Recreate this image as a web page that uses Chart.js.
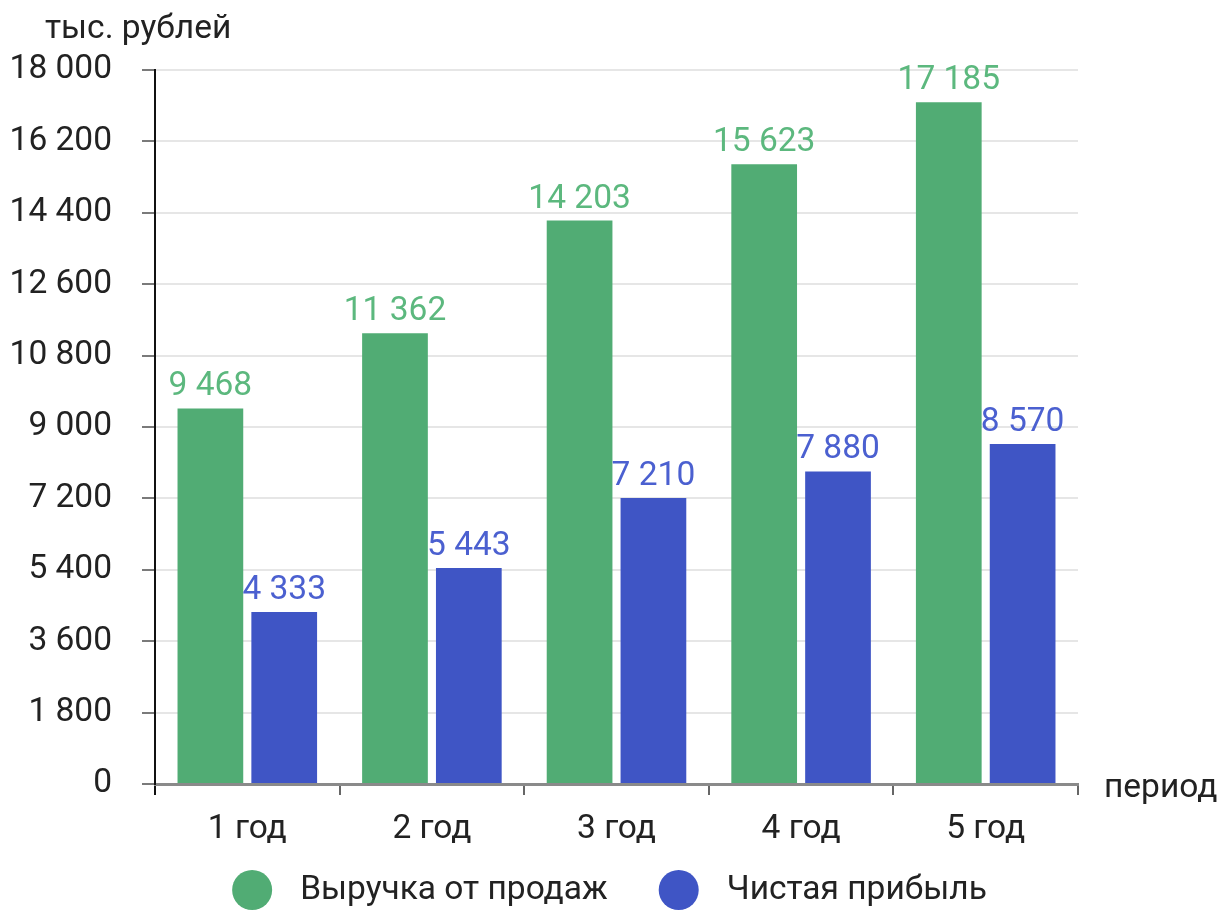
<!DOCTYPE html>
<html>
<head>
<meta charset="utf-8">
<script src="https://cdn.jsdelivr.net/npm/chart.js@4.4.1/dist/chart.umd.min.js"></script>
<style>
  html, body { margin: 0; padding: 0; background: #ffffff; }
  #wrap { width: 1219px; height: 915px; position: relative; }
</style>
</head>
<body>
<div id="wrap"><canvas id="chart" width="1219" height="915"></canvas></div>
<script>
// Revenue and net profit by year, thousand roubles
const categories = ['1 год', '2 год', '3 год', '4 год', '5 год'];
const revenue = [9468, 11362, 14203, 15623, 17185];
const netProfit = [4333, 5443, 7210, 7880, 8570];
const seriesNames = ['Выручка от продаж', 'Чистая прибыль'];
const yTickValues = [0, 1800, 3600, 5400, 7200, 9000, 10800, 12600, 14400, 16200, 18000];
const yAxisTitle = 'тыс. рублей';
const xAxisTitle = 'период';

const FONT = 'Roboto, "Liberation Sans", Arial, sans-serif';
const FS = 33.5;
const barColors = ['#51ac74', '#3f55c5'];
const labelColors = ['#5cb87e', '#4b60d0'];

const fmt = v => String(v).replace(/\B(?=(\d{3})+(?!\d))/g, ' ');

const decor = {
  id: 'decor',
  afterDatasetsDraw(chart) {
    const ctx = chart.ctx;
    ctx.save();
    ctx.font = FS + 'px ' + FONT;
    ctx.textAlign = 'center';
    ctx.textBaseline = 'alphabetic';
    chart.data.datasets.forEach((ds, i) => {
      const meta = chart.getDatasetMeta(i);
      ctx.fillStyle = labelColors[i];
      meta.data.forEach((el, j) => {
        ctx.fillText(fmt(ds.data[j]), el.x, el.y - 13);
      });
    });
    ctx.restore();
  },
  afterDraw(chart) {
    const ctx = chart.ctx;
    const area = chart.chartArea;
    ctx.save();
    ctx.font = FS + 'px ' + FONT;
    ctx.fillStyle = '#222';
    ctx.textBaseline = 'alphabetic';
    ctx.textAlign = 'left';
    ctx.fillText(yAxisTitle, 45, 38);
    ctx.fillText(xAxisTitle, area.right + 26, area.bottom + 13);

    // legend row
    const r = 20, gapText = 28, gapItem = 51;
    const widths = seriesNames.map(n => ctx.measureText(n).width);
    let total = 0;
    widths.forEach((w, i) => { total += 2 * r + gapText + w + (i < widths.length - 1 ? gapItem : 0); });
    let x = chart.width / 2 - total / 2;
    const cy = 890;
    ctx.textBaseline = 'middle';
    seriesNames.forEach((n, i) => {
      ctx.fillStyle = barColors[i];
      ctx.beginPath();
      ctx.arc(x + r, cy, r, 0, Math.PI * 2);
      ctx.fill();
      x += 2 * r + gapText;
      ctx.fillStyle = '#222';
      ctx.fillText(n, x, cy + 1);
      x += widths[i] + gapItem;
    });
    ctx.restore();
  }
};

new Chart(document.getElementById('chart'), {
  type: 'bar',
  data: {
    labels: categories,
    datasets: [
      { label: seriesNames[0], data: revenue, backgroundColor: barColors[0] },
      { label: seriesNames[1], data: netProfit, backgroundColor: barColors[1] }
    ]
  },
  plugins: [decor],
  options: {
    responsive: false,
    animation: false,
    devicePixelRatio: 1,
    categoryPercentage: 0.8,
    barPercentage: 0.89,
    layout: { padding: { left: 0, top: 70, right: 141, bottom: 71 } },
    plugins: {
      legend: { display: false },
      tooltip: { enabled: false }
    },
    scales: {
      x: {
        grid: {
          offset: true,
          drawOnChartArea: false,
          tickLength: 11,
          lineWidth: 2,
          color: ctx => ctx.index === 0 ? '#111' : (ctx.index === categories.length ? 'rgba(0,0,0,0)' : '#666')
        },
        border: { display: true, color: '#8a8a8a', width: 3 },
        ticks: { color: '#222', font: { family: FONT, size: FS }, padding: 15 },
        afterFit: s => { s.height = 60; }
      },
      y: {
        min: 0,
        max: 18000,
        afterBuildTicks: s => { s.ticks = yTickValues.map(v => ({ value: v })); },
        grid: {
          color: '#e6e6e6',
          lineWidth: 2,
          tickLength: 13,
          tickColor: '#7a7a7a'
        },
        border: { display: true, color: '#111', width: 2 },
        ticks: {
          color: '#222',
          font: { family: FONT, size: FS },
          padding: 30,
          callback: v => fmt(v)
        },
        afterFit: s => { s.width = 155; }
      }
    }
  }
});
</script>
</body>
</html>
